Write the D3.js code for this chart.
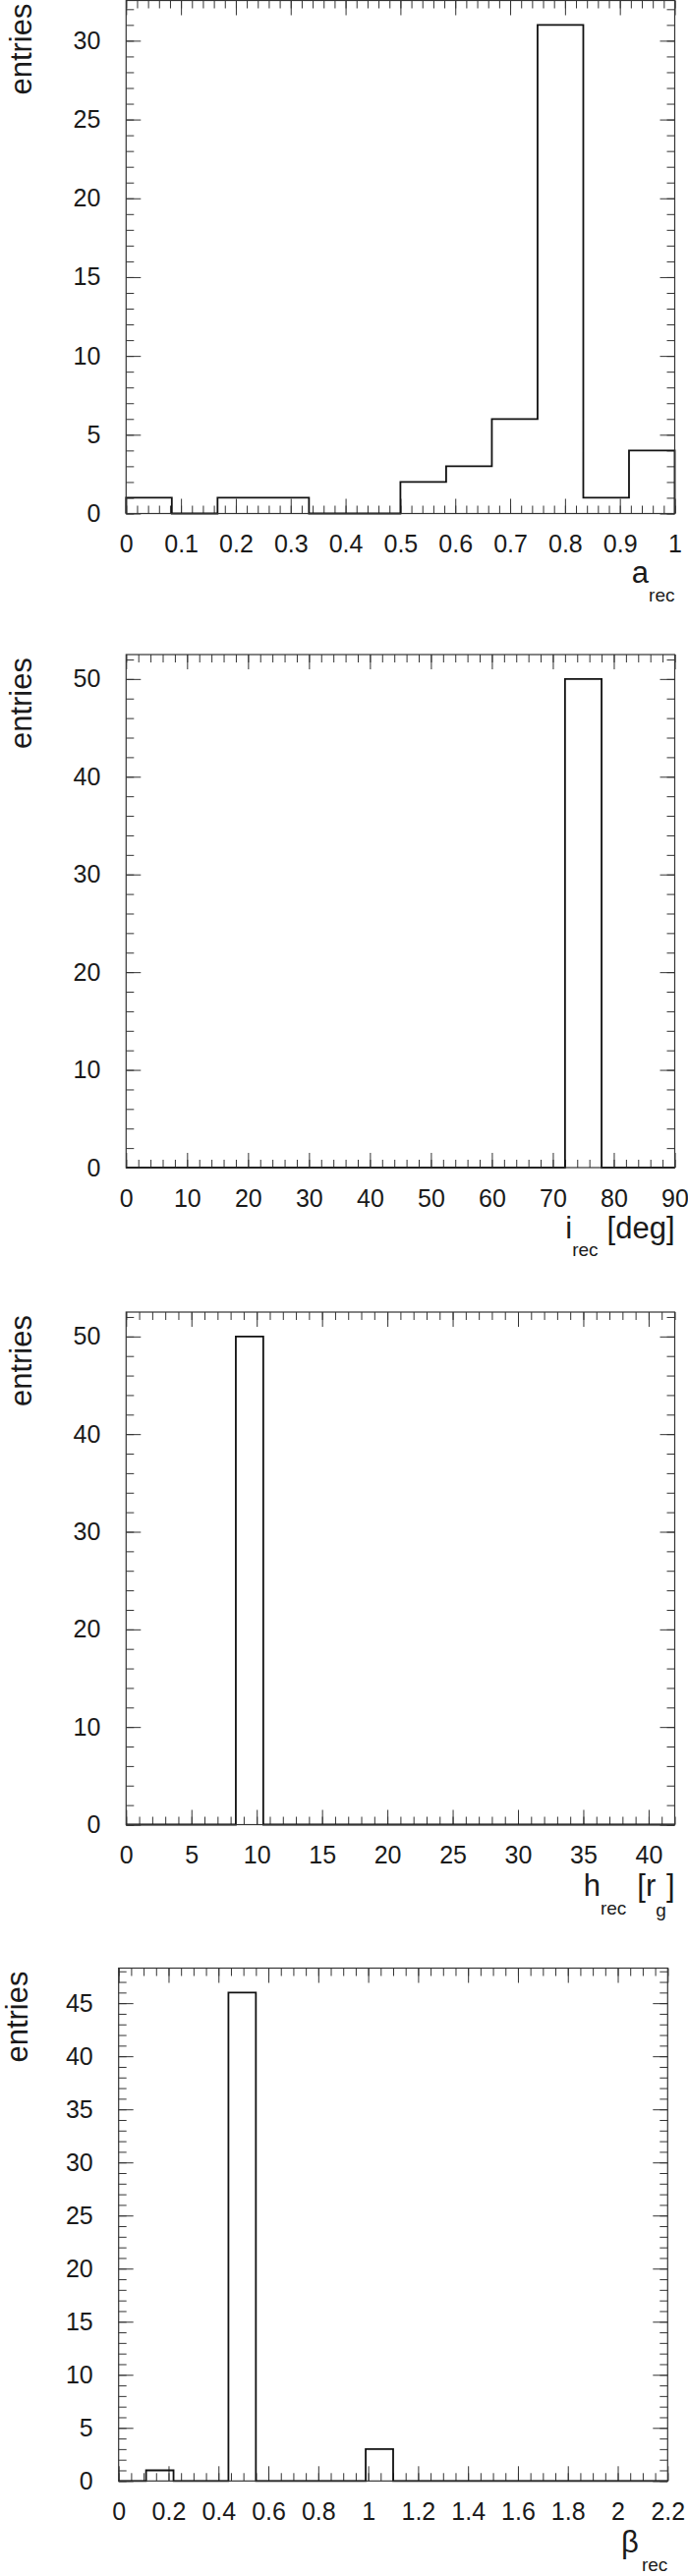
<!DOCTYPE html>
<html>
<head>
<meta charset="utf-8">
<script src="https://cdn.jsdelivr.net/npm/d3@7"></script>
<style>
  body { margin: 0; background: #fff; }
  svg { display: block; }
  text { font-family: "Liberation Sans", Arial, Helvetica, sans-serif; fill: #1a1a1a; }
</style>
</head>
<body>
<svg id="vis"></svg>
<script>
// spin parameter a_rec: 12 bins on [0, 1]
const aRange = [0, 1];
const aCounts = [1, 0, 1, 1, 0, 0, 2, 3, 6, 31, 1, 4];
const aTicks = [0, 0.1, 0.2, 0.3, 0.4, 0.5, 0.6, 0.7, 0.8, 0.9, 1];
const aYTicks = [0, 5, 10, 15, 20, 25, 30];

// inclination i_rec: 15 bins on [0, 90]
const iRange = [0, 90];
const iCounts = [0, 0, 0, 0, 0, 0, 0, 0, 0, 0, 0, 0, 50, 0, 0];
const iTicks = [0, 10, 20, 30, 40, 50, 60, 70, 80, 90];
const iYTicks = [0, 10, 20, 30, 40, 50];

// height h_rec: 20 bins on [0, 42]
const hRange = [0, 42];
const hCounts = [0, 0, 0, 0, 50, 0, 0, 0, 0, 0, 0, 0, 0, 0, 0, 0, 0, 0, 0, 0];
const hTicks = [0, 5, 10, 15, 20, 25, 30, 35, 40];
const hYTicks = [0, 10, 20, 30, 40, 50];

// beta_rec: 20 bins on [0, 2.2]
const bRange = [0, 2.2];
const bCounts = [0, 1, 0, 0, 46, 0, 0, 0, 0, 3, 0, 0, 0, 0, 0, 0, 0, 0, 0, 0];
const bTicks = [0, 0.2, 0.4, 0.6, 0.8, 1, 1.2, 1.4, 1.6, 1.8, 2, 2.2];
const bYTicks = [0, 5, 10, 15, 20, 25, 30, 35, 40, 45];

let config = { svg: {}, tick: {}, font: {} };
config.svg.width = 700;
config.svg.height = 2621;
config.tick.major = 15;
config.tick.minor = 8;
config.font.label = 25;
config.font.title = 31;
config.font.sub = 19;

let panels = [
  { x: 128.3, y: 0.5, w: 558.2, h: 522, range: aRange, counts: aCounts, ticks: aTicks, yTicks: aYTicks,
    minorX: 0.02, minorY: 1, titleDy: 70.5, yTitleX: 96,
    title: [{ t: 'a' }, { t: 'rec', sub: true, dy: 19 }] },
  { x: 128.3, y: 666, w: 558.2, h: 522, range: iRange, counts: iCounts, ticks: iTicks, yTicks: iYTicks,
    minorX: 2, minorY: 2, titleDy: 72, yTitleX: 96,
    title: [{ t: 'i' }, { t: 'rec', sub: true, dy: 18 }, { t: '[deg]', dy: -18, dx: 9 }] },
  { x: 128.3, y: 1335, w: 558.2, h: 521.5, range: hRange, counts: hCounts, ticks: hTicks, yTicks: hYTicks,
    minorX: 1, minorY: 2, titleDy: 72, yTitleX: 96,
    title: [{ t: 'h' }, { t: 'rec', sub: true, dy: 19 }, { t: '[r', dy: -19, dx: 11 }, { t: 'g', sub: true, dy: 21 }, { t: ']', dy: -21 }] },
  { x: 120.7, y: 2002.5, w: 558.6, h: 521.8, range: bRange, counts: bCounts, ticks: bTicks, yTicks: bYTicks,
    minorX: 0.05, minorY: 1, titleDy: 72.5, yTitleX: 93,
    title: [{ t: 'β' }, { t: 'rec', sub: true, dy: 19, dx: 3 }] }
];

const svg = d3.select('svg#vis')
  .attr('width', config.svg.width)
  .attr('height', config.svg.height);

panels.forEach(drawPanel);

function minorValues(lo, hi, step) {
  let n = Math.round((hi - lo) / step);
  return d3.range(0, n + 1).map(i => lo + i * step).filter(v => v <= hi + 1e-9);
}

function styleAxis(g) {
  g.select('.domain').remove();
  g.selectAll('.tick line').attr('stroke', '#333').attr('stroke-width', 1);
  g.selectAll('.tick text')
    .attr('font-size', config.font.label)
    .attr('font-family', '"Liberation Sans", Arial, Helvetica, sans-serif')
    .attr('fill', '#1a1a1a');
  g.attr('font-family', null).attr('font-size', null);
}

function drawPanel(p) {
  let g = svg.append('g').attr('transform', translate(p.x, p.y));

  let x = d3.scaleLinear().domain(p.range).range([0, p.w]);
  let ymax = d3.max(p.counts) * 1.05;
  let y = d3.scaleLinear().domain([0, ymax]).range([p.h, 0]);

  let mx = minorValues(p.range[0], p.range[1], p.minorX);
  let my = minorValues(0, ymax, p.minorY);
  let fmt = d => String(d);

  // bottom
  g.append('g').attr('transform', translate(0, p.h))
    .call(d3.axisBottom(x).tickValues(mx).tickSize(-config.tick.minor).tickFormat('')).call(styleAxis);
  g.append('g').attr('transform', translate(0, p.h))
    .call(d3.axisBottom(x).tickValues(p.ticks).tickSize(-config.tick.major).tickPadding(22).tickFormat(fmt)).call(styleAxis);
  // top
  g.append('g')
    .call(d3.axisTop(x).tickValues(mx).tickSize(-config.tick.minor).tickFormat('')).call(styleAxis);
  g.append('g')
    .call(d3.axisTop(x).tickValues(p.ticks).tickSize(-config.tick.major).tickFormat('')).call(styleAxis);
  // left
  g.append('g')
    .call(d3.axisLeft(y).tickValues(my).tickSize(-config.tick.minor).tickFormat('')).call(styleAxis);
  g.append('g')
    .call(d3.axisLeft(y).tickValues(p.yTicks).tickSize(-config.tick.major).tickPadding(26).tickFormat(fmt)).call(styleAxis);
  // right
  g.append('g').attr('transform', translate(p.w, 0))
    .call(d3.axisRight(y).tickValues(my).tickSize(-config.tick.minor).tickFormat('')).call(styleAxis);
  g.append('g').attr('transform', translate(p.w, 0))
    .call(d3.axisRight(y).tickValues(p.yTicks).tickSize(-config.tick.major).tickFormat('')).call(styleAxis);

  // histogram outline
  let n = p.counts.length;
  let width = (p.range[1] - p.range[0]) / n;
  let pts = [[p.range[0], 0]];
  p.counts.forEach((c, i) => {
    pts.push([p.range[0] + i * width, c]);
    pts.push([p.range[0] + (i + 1) * width, c]);
  });
  pts.push([p.range[1], 0]);

  let line = d3.line().x(d => x(d[0])).y(d => y(d[1]));
  g.append('path')
    .attr('d', line(pts))
    .attr('fill', 'none')
    .attr('stroke', '#111')
    .attr('stroke-width', 1.8)
    .attr('stroke-linejoin', 'miter');

  // frame
  g.append('rect')
    .attr('width', p.w)
    .attr('height', p.h)
    .attr('fill', 'none')
    .attr('stroke', '#333')
    .attr('stroke-width', 1.2);

  // y title
  svg.append('text')
    .text('entries')
    .attr('transform', translate(p.x - p.yTitleX, p.y + 3) + ' rotate(-90)')
    .attr('text-anchor', 'end')
    .attr('font-size', config.font.title);

  // x title
  let t = svg.append('text')
    .attr('x', p.x + p.w)
    .attr('y', p.y + p.h + p.titleDy)
    .attr('text-anchor', 'end')
    .attr('font-size', config.font.title);

  p.title.forEach(part => {
    t.append('tspan')
      .text(part.t)
      .attr('dy', part.dy || 0)
      .attr('dx', part.dx || 0)
      .attr('font-size', part.sub ? config.font.sub : config.font.title);
  });
}

function translate(x, y) {
  return 'translate(' + x + ',' + y + ')';
}
</script>
</body>
</html>
